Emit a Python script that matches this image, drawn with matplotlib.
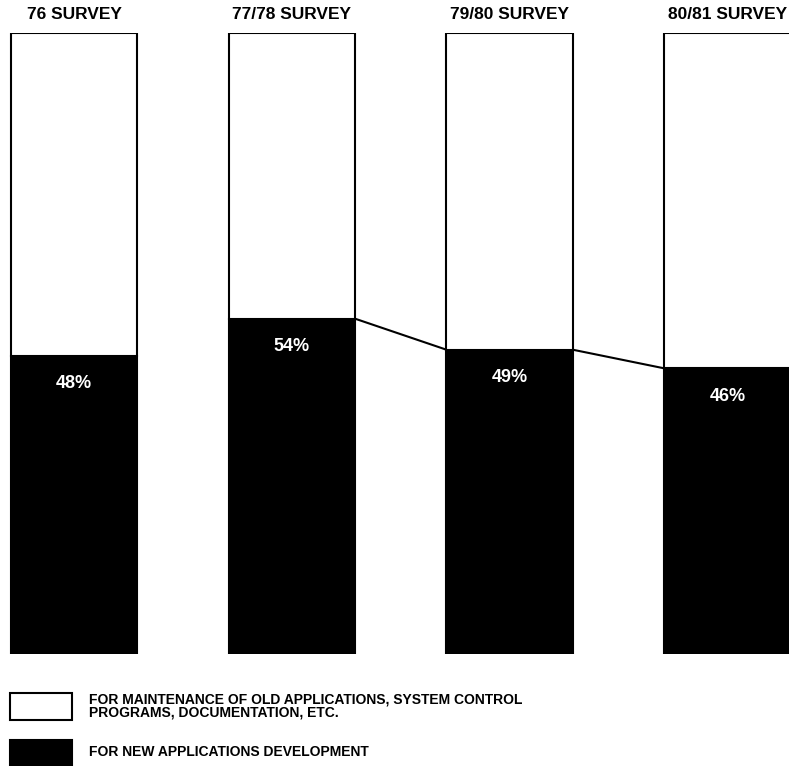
import matplotlib.pyplot as plt
from matplotlib.patches import Rectangle

surveys = ['76 SURVEY', '77/78 SURVEY', '79/80 SURVEY', '80/81 SURVEY']
new_dev = [48, 54, 49, 46]
maintenance = [100 - v for v in new_dev]
legend_labels = ['FOR MAINTENANCE OF OLD APPLICATIONS, SYSTEM CONTROL\nPROGRAMS, DOCUMENTATION, ETC.',
                 'FOR NEW APPLICATIONS DEVELOPMENT']

plt.rcParams['font.family'] = ['Liberation Sans', 'DejaVu Sans']

W, H = 789, 766
fig = plt.figure(figsize=(W / 100, H / 100), dpi=100)
ax = fig.add_axes([0, (H - 654) / H, 1, (654 - 33) / H])

x = list(range(len(surveys)))
width = 0.58
ax.bar(x, new_dev, width=width, color='black', edgecolor='black', linewidth=1.5)
ax.bar(x, maintenance, width=width, bottom=new_dev, color='white', edgecolor='black', linewidth=1.5)

# connecting line between later surveys
for i in range(1, len(x) - 1):
    ax.plot([x[i] + width / 2, x[i + 1] - width / 2], [new_dev[i], new_dev[i + 1]],
            color='black', lw=1.5, solid_capstyle='butt')

for i, v in enumerate(new_dev):
    ax.text(x[i], v - 4.5, '%d%%' % v, color='white', fontsize=13, fontweight='bold',
            ha='center', va='center')
    ax.text(x[i], 103, surveys[i], color='black', fontsize=12.5, fontweight='bold',
            ha='center', va='center', clip_on=False)

ax.set_xlim(-74 / 217.8, (W - 74) / 217.8)
ax.set_ylim(0, 100)
ax.axis('off')

# legend drawn by hand
fig.patches.append(Rectangle((10 / W, 1 - 720 / H), 62 / W, 27 / H, transform=fig.transFigure,
                             facecolor='white', edgecolor='black', lw=1.5))
fig.patches.append(Rectangle((10 / W, 1 - 768 / H), 62 / W, 28 / H, transform=fig.transFigure,
                             facecolor='black', edgecolor='black', lw=1.5))
fig.text(89 / W, 1 - 706 / H, legend_labels[0], fontsize=10, fontweight='bold',
         ha='left', va='center', linespacing=0.95)
fig.text(89 / W, 1 - 752 / H, legend_labels[1], fontsize=10, fontweight='bold',
         ha='left', va='center')

fig.savefig('out.png', dpi=100, facecolor='white')
